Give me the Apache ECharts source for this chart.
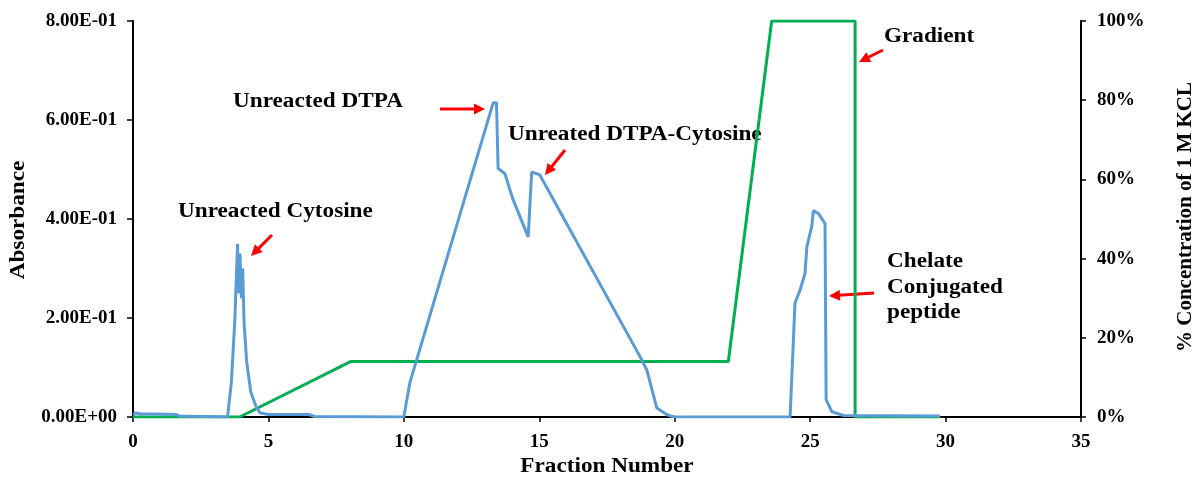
<!DOCTYPE html>
<html>
<head>
<meta charset="utf-8">
<title>Fraction profile</title>
<script src="https://cdn.jsdelivr.net/npm/echarts@6/dist/echarts.min.js"></script>
<style>
    html, body { margin: 0; padding: 0; background: #fff; }
    #chart { width: 1200px; height: 484px; }
</style>
</head>
<body>
<div id="chart"></div>
<script>
    // absorbance trace (blue)
    var fractionA = [0, 0.1, 0.3, 0.8, 1.6, 1.7, 3.49, 3.63, 3.76, 3.86, 3.9, 3.95, 4.0, 4.05, 4.1, 4.2, 4.35, 4.55, 4.7, 5.0, 6.5, 6.7,
        10.0, 10.22, 13.3, 13.42, 13.48, 13.73, 13.92, 14.04, 14.59, 14.72, 15.02, 18.72, 18.97, 19.34, 19.7, 19.85, 19.9, 20.0,
        24.26, 24.44, 24.63, 24.81, 24.88, 25.06, 25.12, 25.31, 25.55, 25.59, 25.8, 26.23, 29.8];
    var absorbance = [0.005, 0.008, 0.006, 0.006, 0.005, 0.002, 0, 0.069, 0.196, 0.35, 0.25, 0.33, 0.24, 0.30, 0.19, 0.11, 0.05, 0.02, 0.008, 0.005, 0.005, 0.001,
        0, 0.069, 0.635, 0.635, 0.502, 0.492, 0.458, 0.438, 0.364, 0.495, 0.489, 0.122, 0.095, 0.018, 0.005, 0.002, 0.006, 0,
        0, 0.23, 0.257, 0.29, 0.344, 0.385, 0.417, 0.411, 0.391, 0.035, 0.011, 0.003, 0.002];

    // KCl gradient (green), percent
    var fractionG = [0, 3.94, 8.03, 21.98, 23.58, 26.66, 26.66, 29.8];
    var gradient = [0, 0, 14, 14, 100, 100, 0, 0];

    var xTicks = {min: 0, max: 35, interval: 5};
    var leftTicks = {min: 0, max: 0.8, interval: 0.2};
    var rightTicks = {min: 0, max: 100, interval: 20};

    var labels = [
        {text: 'Unreacted Cytosine', x: 178, y: 212},
        {text: 'Unreacted DTPA', x: 233, y: 102},
        {text: 'Unreated DTPA-Cytosine', x: 508, y: 135},
        {text: 'Gradient', x: 884, y: 37},
        {text: 'Chelate', x: 887, y: 262},
        {text: 'Conjugated', x: 887, y: 288},
        {text: 'peptide', x: 887, y: 313}
    ];
    var arrows = [
        [272, 235, 251, 256],
        [440, 109, 485, 109],
        [565, 150, 545, 175],
        [883, 50, 859, 62],
        [874, 293, 829, 296]
    ];

    var serif = '"Liberation Serif", "Times New Roman", serif';

    function zip(a, b) {
        return a.map(function (v, i) { return [v, b[i]]; });
    }

    function sci(v) {
        var s = Number(v).toExponential(2).toUpperCase();
        return s.replace(/E([+-])(\d)$/, function (m, sign, d) { return 'E' + sign + '0' + d; });
    }

    function arrow(a) {
        var x1 = a[0], y1 = a[1], x2 = a[2], y2 = a[3];
        var dx = x2 - x1, dy = y2 - y1, L = Math.sqrt(dx * dx + dy * dy);
        var ux = dx / L, uy = dy / L, hl = 11, hw = 5.5;
        var bx = x2 - ux * hl, by = y2 - uy * hl;
        return [
            {type: 'line', shape: {x1: x1, y1: y1, x2: bx + ux, y2: by + uy}, style: {stroke: '#ff0000', lineWidth: 3}},
            {type: 'polygon', shape: {points: [[x2, y2], [bx - uy * hw, by + ux * hw], [bx + uy * hw, by - ux * hw]]}, style: {fill: '#ff0000'}}
        ];
    }

    var textStyle = function (t, align) {
        return {text: t, font: 'bold 20px ' + serif, fill: '#000', textAlign: align || 'left', textVerticalAlign: 'middle'};
    };

    var graphics = [];
    labels.forEach(function (l) {
        graphics.push({type: 'text', x: l.x, y: l.y, scaleX: 1.16, style: textStyle(l.text)});
    });
    arrows.forEach(function (a) {
        graphics = graphics.concat(arrow(a));
    });
    // axis titles
    graphics.push({type: 'text', x: 19, y: 220, rotation: Math.PI / 2, scaleX: 1.16, style: textStyle('Absorbance', 'center')});
    graphics.push({type: 'text', x: 1186, y: 217, rotation: Math.PI / 2, scaleX: 1.05, style: textStyle('% Concentration of 1 M KCL', 'center')});
    graphics.push({type: 'text', x: 607, y: 467, scaleX: 1.16, style: textStyle('Fraction Number', 'center')});

    var axisLine = {show: true, lineStyle: {color: '#000', width: 2}};
    var tickLabel = {color: '#000', fontFamily: serif, fontWeight: 'bold', fontSize: 19};

    var myChart = echarts.init(document.getElementById('chart'));
    myChart.setOption({
        animation: false,
        backgroundColor: '#fff',
        grid: {left: 133, right: 119, top: 21, bottom: 67},
        xAxis: {
            type: 'value',
            min: xTicks.min, max: xTicks.max, interval: xTicks.interval,
            axisLine: axisLine,
            axisTick: {show: true, length: 5, lineStyle: {color: '#000', width: 1.5}},
            axisLabel: Object.assign({margin: 16}, tickLabel),
            splitLine: {show: false}
        },
        yAxis: [
            {
                type: 'value',
                min: leftTicks.min, max: leftTicks.max, interval: leftTicks.interval,
                axisLine: axisLine,
                axisTick: {show: true, length: 6, lineStyle: {color: '#000', width: 1.5}},
                axisLabel: Object.assign({margin: 16, formatter: sci}, tickLabel),
                splitLine: {show: false}
            },
            {
                type: 'value',
                position: 'right',
                min: rightTicks.min, max: rightTicks.max, interval: rightTicks.interval,
                axisLine: axisLine,
                axisTick: {show: true, length: 5, lineStyle: {color: '#000', width: 1.5}},
                axisLabel: Object.assign({margin: 16, formatter: '{value}%'}, tickLabel),
                splitLine: {show: false}
            }
        ],
        series: [
            {
                name: 'Gradient',
                type: 'line',
                yAxisIndex: 1,
                data: zip(fractionG, gradient),
                symbol: 'none',
                lineStyle: {color: '#00b050', width: 3},
                z: 2
            },
            {
                name: 'Absorbance',
                type: 'line',
                yAxisIndex: 0,
                data: zip(fractionA, absorbance),
                symbol: 'none',
                lineStyle: {color: '#5b9bd5', width: 3},
                z: 3
            }
        ],
        graphic: graphics
    });
</script>
</body>
</html>
